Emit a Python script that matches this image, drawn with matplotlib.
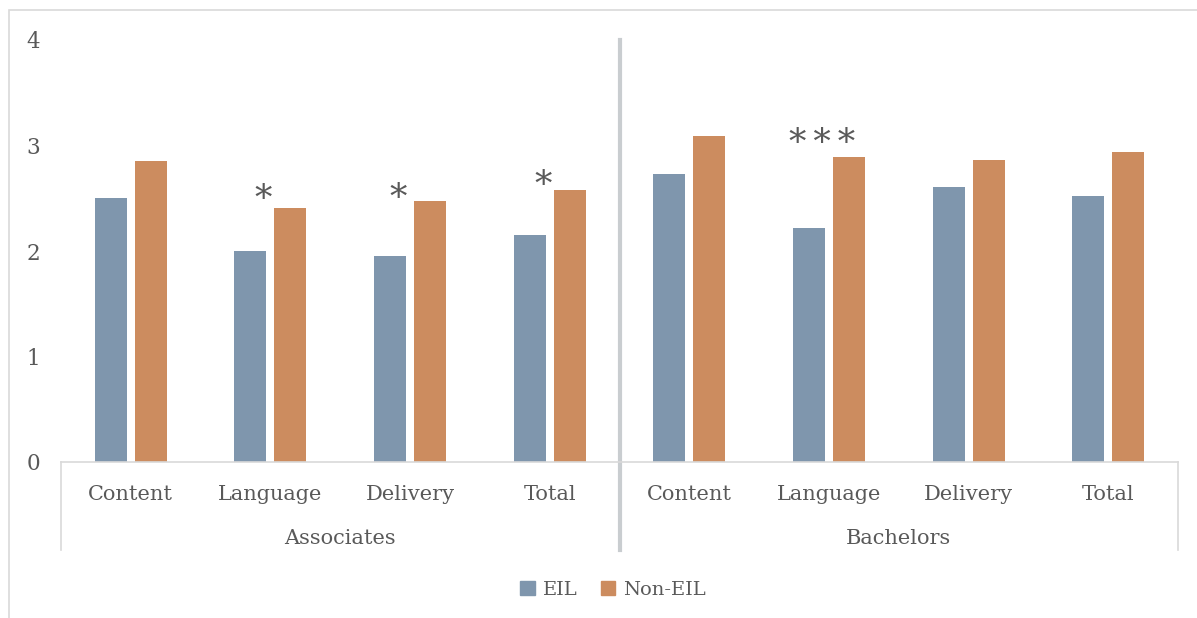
import matplotlib.pyplot as plt
from matplotlib.lines import Line2D
from matplotlib.patches import Rectangle, Patch
import numpy as np

groups = ['Associates', 'Bachelors']
metrics = ['Content', 'Language', 'Delivery', 'Total']
eil = [2.50, 2.00, 1.95, 2.15, 2.73, 2.22, 2.61, 2.52]
non_eil = [2.85, 2.41, 2.47, 2.58, 3.09, 2.89, 2.86, 2.94]
sig = ['', '*', '*', '*', '', '***', '', '']

blue = '#7f96ad'
orange = '#cc8c5f'
txt = '#595959'
grid = '#d9d9d9'

plt.rcParams['font.family'] = ['DejaVu Serif']

W, H = 1197, 618
fig = plt.figure(figsize=(W / 100, H / 100), dpi=100)
ax = fig.add_axes([61 / W, 1 - 462 / H, (1178 - 61) / W, (462 - 40) / H])

# chart frame
fig.patches.append(Rectangle((9 / W, -0.1), 1.2, (H - 10) / H + 0.1,
                             transform=fig.transFigure, fill=False,
                             edgecolor=grid, lw=1.2))

x = np.arange(len(eil))
bw = 0.229
off = 0.143
ax.bar(x - off, eil, bw, color=blue, label='EIL')
ax.bar(x + off, non_eil, bw, color=orange, label='Non-EIL')

# significance marks, hand placed in the original (offsets in pixels)
star_dx = {1: -7, 2: -12, 3: -7, 5: -7}
star_dy = {1: -9, 2: -15, 3: -13, 5: -4}
for i, s in enumerate(sig):
    if s:
        ax.annotate('\u2009'.join(s), (x[i], non_eil[i]),
                    xytext=(star_dx[i] * 0.72, star_dy[i] * 0.72),
                    textcoords='offset points', ha='center', va='bottom',
                    fontsize=25, color=txt)

ax.set_xlim(-0.5, 7.5)
ax.set_ylim(0, 4)
ax.set_yticks([0, 1, 2, 3, 4])
ax.tick_params(axis='y', length=0, pad=15, labelsize=15.5, labelcolor=txt)
ax.set_xticks([])
for sp in ['top', 'right', 'left']:
    ax.spines[sp].set_visible(False)
ax.spines['bottom'].set_color(grid)
ax.spines['bottom'].set_linewidth(1.2)

# two-level category axis
yb = -(550 - 462) / 105.5
for i, m in enumerate(metrics * len(groups)):
    ax.text(x[i], -(494 - 462) / 105.5, m, ha='center', va='center',
            fontsize=15, color=txt, clip_on=False)
for g, name in enumerate(groups):
    ax.text(1.5 + 4 * g, -(539 - 462) / 105.5, name, ha='center', va='center',
            fontsize=15, color=txt, clip_on=False)
for xv in [-0.5, 7.5]:
    ax.add_line(Line2D([xv, xv], [0, yb], color=grid, lw=1.2, clip_on=False))
ax.add_line(Line2D([3.5, 3.5], [4, yb], color='#c9cdd0', lw=3, clip_on=False))

fig.legend(handles=[Patch(color=blue, label='EIL'), Patch(color=orange, label='Non-EIL')],
           loc='center', bbox_to_anchor=(0.512, 1 - 590 / H), ncol=2, frameon=False,
           fontsize=14, labelcolor=txt, handlelength=0.75, handleheight=0.75,
           handletextpad=0.4, columnspacing=1.2)

fig.savefig('out.png', dpi=100)
